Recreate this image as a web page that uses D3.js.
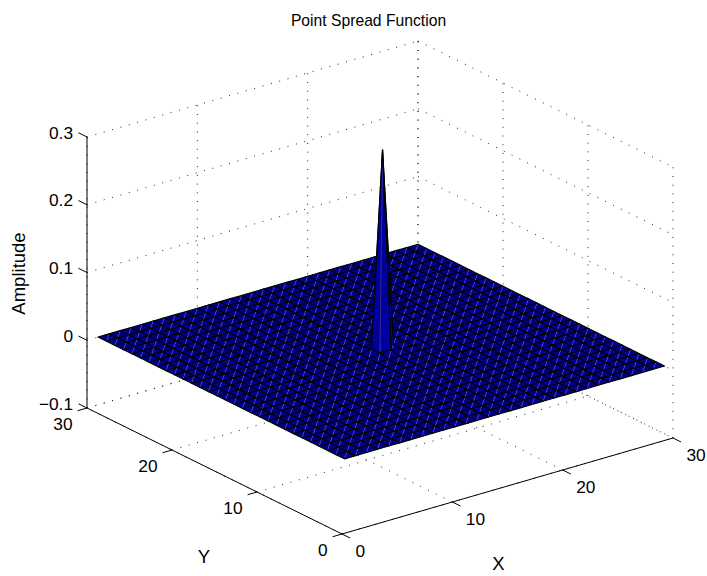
<!DOCTYPE html>
<meta charset="utf-8">
<style>
body { margin: 0; background-color: #fff; }
text { font-family: "Liberation Sans", sans-serif; fill: #000; }
.tick-label { font-size: 17.3px; }
.title { font-size: 15.7px; }
.axis-label { font-size: 18.5px; }
.grid { fill: none; stroke: #222; stroke-width: 1px; stroke-dasharray: 1,7.7; }
.axis { fill: none; stroke: #000; stroke-width: 1px; }
.mesh { fill: none; stroke: #000; stroke-width: 1.15px; stroke-linejoin: round; }
.seam { fill: none; stroke: #5a5ac0; stroke-width: 0.45px; }
</style>
<body>
<svg width="707" height="576"></svg>
<script src="https://d3js.org/d3.v7.min.js"></script>
<script>

var xTicks = [0, 10, 20, 30];
var yTicks = [0, 10, 20, 30];
var zTicks = [-0.1, 0, 0.1, 0.2, 0.3];
var gridX = [1,2,3,4,5,6,7,8,9,10,11,12,13,14,15,16,17,18,19,20,21,22,23,24,25,26,27,28,29,30];
var gridY = [1,2,3,4,5,6,7,8,9,10,11,12,13,14,15,16,17,18,19,20,21,22,23,24,25,26,27,28,29,30];

// amplitude, one row per y (1..30), one column per x (1..30)
var amplitude = [
  [0,0,0,0,0,0,0,0,0,0,0,0,0,0,0,0,0,0,0,0,0,0,0,0,0,0,0,0,0,0],
  [0,0,0,0,0,0,0,0,0,0,0,0,0,0,0,0,0,0,0,0,0,0,0,0,0,0,0,0,0,0],
  [0,0,0,0,0,0,0,0,0,0,0,0,0,0,0,0,0,0,0,0,0,0,0,0,0,0,0,0,0,0],
  [0,0,0,0,0,0,0,0,0,0,0,0,0,0,0,0,0,0,0,0,0,0,0,0,0,0,0,0,0,0],
  [0,0,0,0,0,0,0,0,0,0,0,0,0,0,0,0,0,0,0,0,0,0,0,0,0,0,0,0,0,0],
  [0,0,0,0,0,0,0,0,0,0,0,0,0,0,0,0,0,0,0,0,0,0,0,0,0,0,0,0,0,0],
  [0,0,0,0,0,0,0,0,0,0,0,0,0,0,0,0,0,0,0,0,0,0,0,0,0,0,0,0,0,0],
  [0,0,0,0,0,0,0,0,0,0,0,0,0,0,0,0,0,0,0,0,0,0,0,0,0,0,0,0,0,0],
  [0,0,0,0,0,0,0,0,0,0,0,0,0,0,0,0,0,0,0,0,0,0,0,0,0,0,0,0,0,0],
  [0,0,0,0,0,0,0,0,0,0,0,0,0,0,0,0,0,0,0,0,0,0,0,0,0,0,0,0,0,0],
  [0,0,0,0,0,0,0,0,0,0,0,0,0,0,0,0,0,0,0,0,0,0,0,0,0,0,0,0,0,0],
  [0,0,0,0,0,0,0,0,0,0,0,0,0,0,0,0,0,0,0,0,0,0,0,0,0,0,0,0,0,0],
  [0,0,0,0,0,0,0,0,0,0,0,0,0,0,0,0,0,0,0,0,0,0,0,0,0,0,0,0,0,0],
  [0,0,0,0,0,0,0,0,0,0,0,0,0,0,0,0,0,0,0,0,0,0,0,0,0,0,0,0,0,0],
  [0,0,0,0,0,0,0,0,0,0,0,0,0,0,0.003,0.003,0,0,0,0,0,0,0,0,0,0,0,0,0,0],
  [0,0,0,0,0,0,0,0,0,0,0,0,0,0,0.003,0.292,0,0,0,0,0,0,0,0,0,0,0,0,0,0],
  [0,0,0,0,0,0,0,0,0,0,0,0,0,0,0,0,0,0,0,0,0,0,0,0,0,0,0,0,0,0],
  [0,0,0,0,0,0,0,0,0,0,0,0,0,0,0,0,0,0,0,0,0,0,0,0,0,0,0,0,0,0],
  [0,0,0,0,0,0,0,0,0,0,0,0,0,0,0,0,0,0,0,0,0,0,0,0,0,0,0,0,0,0],
  [0,0,0,0,0,0,0,0,0,0,0,0,0,0,0,0,0,0,0,0,0,0,0,0,0,0,0,0,0,0],
  [0,0,0,0,0,0,0,0,0,0,0,0,0,0,0,0,0,0,0,0,0,0,0,0,0,0,0,0,0,0],
  [0,0,0,0,0,0,0,0,0,0,0,0,0,0,0,0,0,0,0,0,0,0,0,0,0,0,0,0,0,0],
  [0,0,0,0,0,0,0,0,0,0,0,0,0,0,0,0,0,0,0,0,0,0,0,0,0,0,0,0,0,0],
  [0,0,0,0,0,0,0,0,0,0,0,0,0,0,0,0,0,0,0,0,0,0,0,0,0,0,0,0,0,0],
  [0,0,0,0,0,0,0,0,0,0,0,0,0,0,0,0,0,0,0,0,0,0,0,0,0,0,0,0,0,0],
  [0,0,0,0,0,0,0,0,0,0,0,0,0,0,0,0,0,0,0,0,0,0,0,0,0,0,0,0,0,0],
  [0,0,0,0,0,0,0,0,0,0,0,0,0,0,0,0,0,0,0,0,0,0,0,0,0,0,0,0,0,0],
  [0,0,0,0,0,0,0,0,0,0,0,0,0,0,0,0,0,0,0,0,0,0,0,0,0,0,0,0,0,0],
  [0,0,0,0,0,0,0,0,0,0,0,0,0,0,0,0,0,0,0,0,0,0,0,0,0,0,0,0,0,0],
  [0,0,0,0,0,0,0,0,0,0,0,0,0,0,0,0,0,0,0,0,0,0,0,0,0,0,0,0,0,0]
];

var svg = d3.select("svg");

// oblique projection: each data axis adds a pixel offset along its own direction
var origin = [342, 534];
var xToPx = d3.scaleLinear().domain([0, 30]).range([0, 331]);
var xToPy = d3.scaleLinear().domain([0, 30]).range([0, -96]);
var yToPx = d3.scaleLinear().domain([0, 30]).range([0, -255]);
var yToPy = d3.scaleLinear().domain([0, 30]).range([0, -126]);
var zToPy = d3.scaleLinear().domain([-0.1, 0.3]).range([0, -271]);

// a cell takes its colour from its first corner
var cellColor = d3.scaleLinear().domain([0, 0.003, 0.292]).range(["#00008c", "#00009c", "#800000"]);

function project(x, y, z) {
  return [origin[0] + xToPx(x) + yToPx(y), origin[1] + xToPy(x) + yToPy(y) + zToPy(z)];
}

var line3 = d3.line();

function seg(g, cls, a, b) {
  g.append("path").attr("class", cls).attr("d", line3([project.apply(null, a), project.apply(null, b)]));
}

var zMin = zTicks[0], zMax = zTicks[zTicks.length - 1];

// dotted grid on the floor and the two back walls
var grid = svg.append("g");
xTicks.forEach(function(x) {
  seg(grid, "grid", [x, 0, zMin], [x, 30, zMin]);
  seg(grid, "grid", [x, 30, zMin], [x, 30, zMax]);
});
yTicks.forEach(function(y) {
  seg(grid, "grid", [0, y, zMin], [30, y, zMin]);
  seg(grid, "grid", [30, y, zMin], [30, y, zMax]);
});
zTicks.forEach(function(z) {
  seg(grid, "grid", [0, 30, z], [30, 30, z]);
  seg(grid, "grid", [30, 30, z], [30, 0, z]);
});

// solid axes and ticks
var axes = svg.append("g");
seg(axes, "axis", [0, 0, zMin], [30, 0, zMin]);
seg(axes, "axis", [0, 0, zMin], [0, 30, zMin]);
seg(axes, "axis", [0, 30, zMin], [0, 30, zMax]);
xTicks.forEach(function(x) { seg(axes, "axis", [x, 0, zMin], [x, -0.95, zMin]); });
yTicks.forEach(function(y) { seg(axes, "axis", [0, y, zMin], [-0.85, y, zMin]); });
zTicks.forEach(function(z) { seg(axes, "axis", [0, 30, z], [0, 31, z]); });

// surface, painted from the back corner to the front corner
var cells = [];
gridY.slice(0, -1).forEach(function(y, j) {
  gridX.slice(0, -1).forEach(function(x, i) {
    cells.push({i: i, j: j});
  });
});
cells.sort(function(a, b) { return (b.i + b.j) - (a.i + a.j); });

var surf = svg.append("g");
cells.forEach(function(c) {
  var p00 = project(gridX[c.i], gridY[c.j], amplitude[c.j][c.i]);
  var p10 = project(gridX[c.i + 1], gridY[c.j], amplitude[c.j][c.i + 1]);
  var p11 = project(gridX[c.i + 1], gridY[c.j + 1], amplitude[c.j + 1][c.i + 1]);
  var p01 = project(gridX[c.i], gridY[c.j + 1], amplitude[c.j + 1][c.i]);
  var color = cellColor(amplitude[c.j][c.i]);
  // two triangles per cell with a faint seam between them
  surf.append("path").attr("fill", color).attr("d", line3([p00, p10, p11]) + "Z");
  surf.append("path").attr("fill", color).attr("d", line3([p00, p11, p01]) + "Z");
  surf.append("path").attr("class", "seam").attr("d", line3([p00, p11]));
  surf.append("path").attr("class", "mesh").attr("d", line3([p00, p10, p11, p01]) + "Z");
});

// labels
function label(cls, txt, x, y, anchor) {
  return svg.append("text").attr("class", cls).attr("x", x).attr("y", y)
    .attr("text-anchor", anchor || "middle").text(txt);
}

xTicks.forEach(function(x) {
  var p = project(x, 0, zMin);
  label("tick-label", x, p[0] + 13.5, p[1] + 23, "start");
});
yTicks.forEach(function(y) {
  var p = project(0, y, zMin);
  label("tick-label", y, p[0] - 14.5, p[1] + 21.5, "end");
});
zTicks.forEach(function(z) {
  var p = project(0, 30, z);
  label("tick-label", String(z).replace("-", "\u2212"), p[0] - 14, p[1] + 1.5, "end");
});

label("title", "Point Spread Function", 368.5, 26);
label("axis-label", "X", 498.5, 570);
label("axis-label", "Y", 204, 563);
svg.append("text").attr("class", "axis-label").attr("text-anchor", "middle")
  .attr("transform", "translate(25,273.5) rotate(-90)").text("Amplitude");

</script>
</body>
